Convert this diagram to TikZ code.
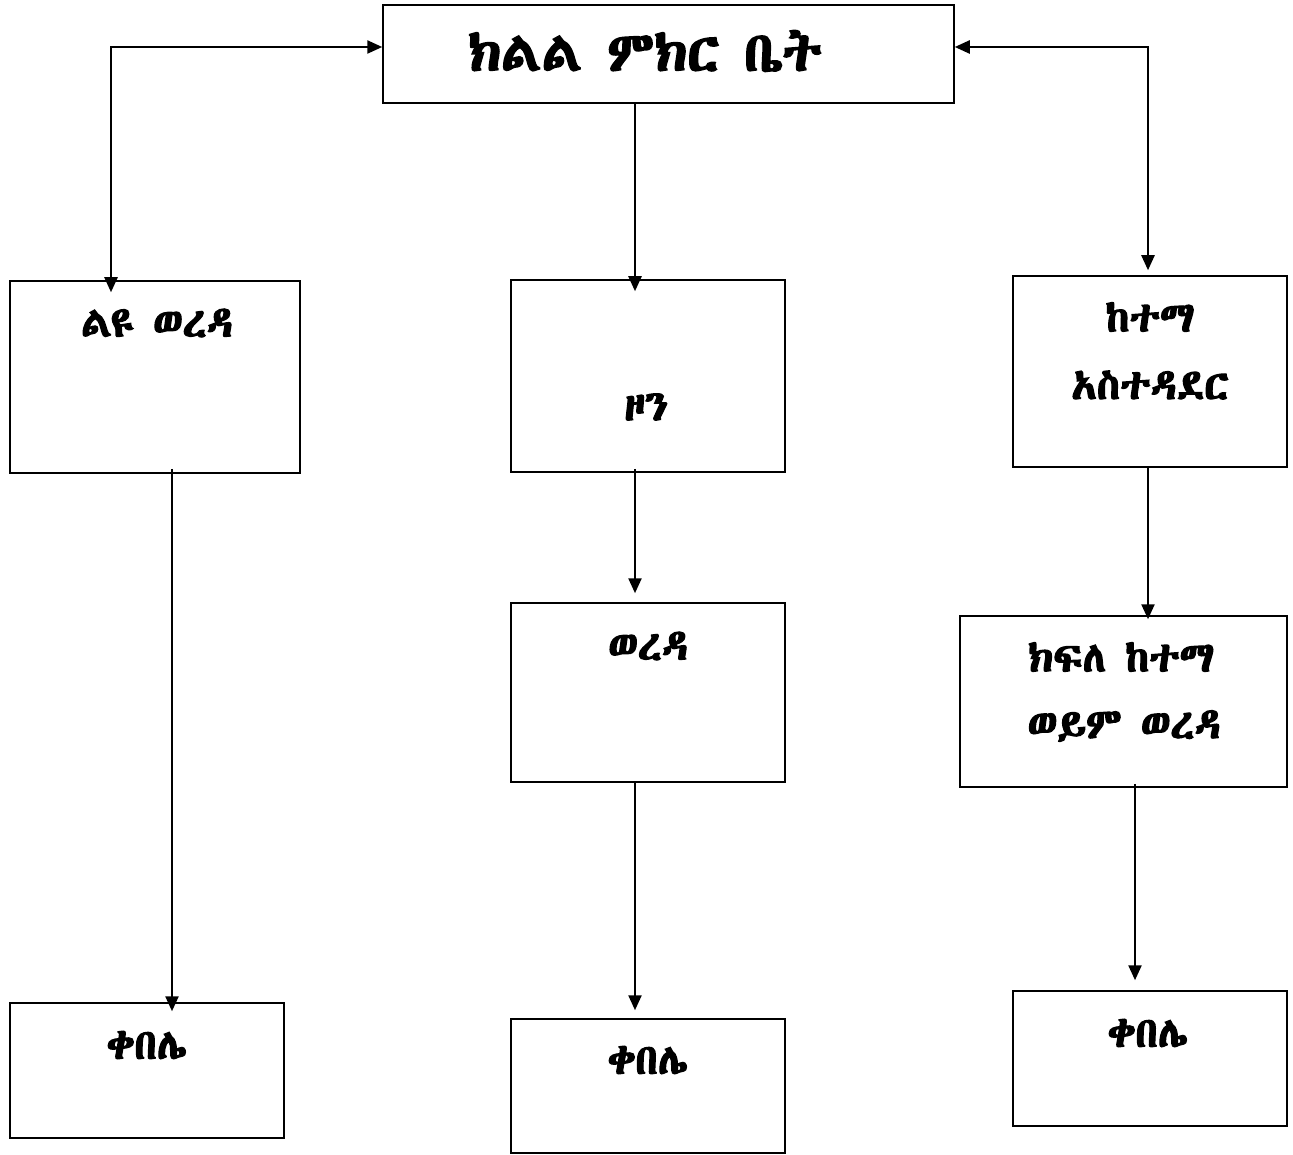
\documentclass[tikz,border=0pt]{standalone}
\usepackage{fontspec}
\usetikzlibrary{arrows.meta}
\IfFontExistsTF{Abyssinica SIL}{\newfontfamily\eth{Abyssinica SIL}[FakeBold=3]}{%
 \IfFontExistsTF{FreeSerif}{\newfontfamily\eth{FreeSerif}[FakeBold=3]}{%
  \IfFontExistsTF{FreeSans}{\newfontfamily\eth{FreeSans}[FakeBold=3]}{%
   \newfontfamily\eth{DejaVu Sans}[FakeBold=3]}}}
\begin{document}
\begin{tikzpicture}[x=1pt,y=-1pt,
  box/.style={draw=black,line width=1.5pt,minimum width=#1,inner sep=0pt},
  lbl/.style={font=\eth\fontsize{42}{48}\selectfont,inner sep=0pt},
  big/.style={font=\eth\fontsize{55}{60}\selectfont,inner sep=0pt},
  arr/.style={line width=2.4pt,-{Triangle[length=15pt,width=13pt]}},
  darr/.style={line width=2.4pt,{Triangle[length=15pt,width=13pt]}-{Triangle[length=15pt,width=13pt]}}]
\useasboundingbox (0,0) rectangle (1293,1155);
% boxes
\node[box=571pt,minimum height=98pt] (top) at (668.5,54) {};
\node[box=290pt,minimum height=192pt] (l1) at (155,377) {};
\node[box=274pt,minimum height=192pt] (m1) at (648,376) {};
\node[box=274pt,minimum height=191pt] (r1) at (1150,371.5) {};
\node[box=274pt,minimum height=179pt] (m2) at (648,692.5) {};
\node[box=327pt,minimum height=171pt] (r2) at (1123.5,701.5) {};
\node[box=274pt,minimum height=135pt] (l3) at (147,1070.5) {};
\node[box=274pt,minimum height=134pt] (m3) at (648,1086) {};
\node[box=274pt,minimum height=135pt] (r3) at (1150,1058.5) {};
% labels
\node[big] (ttop) at (645,51) {ክልል ምክር ቤት};
\node[lbl] (tl1) at (157,323) {ልዩ ወረዳ};
\node[lbl] (tm1) at (646,407) {ዞን};
\node[lbl] (tr1a) at (1150,317) {ከተማ};
\node[lbl] (tr1b) at (1150,385) {አስተዳደር};
\node[lbl] (tm2) at (648,646) {ወረዳ};
\node[lbl] (tr2a) at (1121,657) {ክፍለ ከተማ};
\node[lbl] (tr2b) at (1124,726) {ወይም ወረዳ};
\node[lbl] (tl3) at (147,1045) {ቀበሌ};
\node[lbl] (tm3) at (648,1060) {ቀበሌ};
\node[lbl] (tr3) at (1148,1033) {ቀበሌ};
% connectors
\draw[darr] ([yshift=7pt]top.west) -| ([xshift=-44pt,yshift=-12pt]l1.north);
\draw[darr] ([yshift=7pt]top.east) -| ([xshift=-2pt,yshift=5pt]r1.north);
\draw[arr] ([xshift=-13pt]m1.north |- top.south) -- ([xshift=-13pt,yshift=-12pt]m1.north);
\draw[arr] ([xshift=17pt,yshift=5pt]l1.south) -- ([xshift=25pt,yshift=-9pt]l3.north);
\draw[arr] ([xshift=-13pt,yshift=4pt]m1.south) -- ([xshift=-13pt,yshift=9pt]m2.north);
\draw[arr] ([xshift=-13pt]m2.south) -- ([xshift=-13pt,yshift=8pt]m3.north);
\draw[arr] ([xshift=-2pt]r1.south) -- ([xshift=24.5pt,yshift=-4pt]r2.north);
\draw[arr] ([xshift=11.5pt,yshift=4pt]r2.south) -- ([xshift=-15pt,yshift=10pt]r3.north);
\end{tikzpicture}
\end{document}
